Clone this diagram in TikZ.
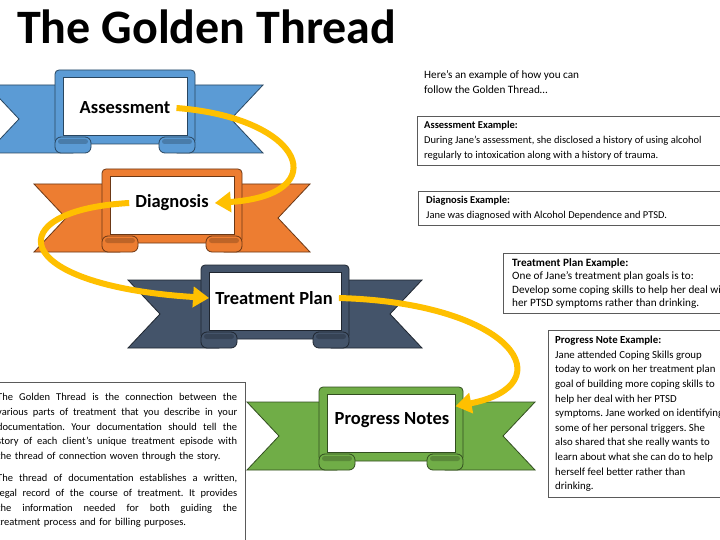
\documentclass[tikz,border=0pt]{standalone}
\usepackage{fontspec}
\setmainfont{Carlito}
\usepackage{tikz}
\usetikzlibrary{arrows.meta}
\definecolor{rbblue}{RGB}{91,155,213}
\definecolor{rborange}{RGB}{237,125,49}
\definecolor{rbslate}{RGB}{68,84,106}
\definecolor{rbgreen}{RGB}{112,173,71}
\definecolor{gold}{RGB}{255,192,0}
\definecolor{boxgray}{RGB}{90,90,90}
\newcommand{\exfont}{\fontsize{10.5}{14.8}\selectfont\frenchspacing}
\newcommand{\jline}[1]{{\spaceskip=0pt\xspaceskip=0pt\makebox[240pt][s]{#1}}}
% ribbon: colour, centre x, top y, half width, panel half width
\newcommand{\ribbon}[5]{%
  \draw[rib=#1] ({#2-#4},{#3+15}) -- ({#2-#5+18},{#3+15}) -- ({#2-#5+18},{#3+83}) -- ({#2-#4},{#3+83}) -- ({#2-#4+32},{#3+49}) -- cycle;
  \draw[rib=#1] ({#2+#4},{#3+15}) -- ({#2+#5-18},{#3+15}) -- ({#2+#5-18},{#3+83}) -- ({#2+#4},{#3+83}) -- ({#2+#4-32},{#3+49}) -- cycle;
  \draw[rib=#1, rounded corners=4] ({#2-#5},{#3}) rectangle ({#2+#5},{#3+74});
  \draw[rib=#1, fill=white] ({#2-#5+8},{#3+7}) rectangle ({#2+#5-8},{#3+65});
  \draw[rib=#1, rounded corners=6] ({#2-#5},{#3+67}) rectangle ({#2-#5+36},{#3+83});
  \draw[rib=#1, rounded corners=6] ({#2+#5-36},{#3+67}) rectangle ({#2+#5},{#3+83});
  \fill[#1!80!black, rounded corners=2.5] ({#2-#5+3},{#3+69}) rectangle ({#2-#5+33},{#3+74});
  \fill[#1!80!black, rounded corners=2.5] ({#2+#5-33},{#3+69}) rectangle ({#2+#5-3},{#3+74});
}
\tikzset{
  rib/.style={draw=#1!45!black, fill=#1, line width=0.8pt},
  rlabel/.style={font=\bfseries\fontsize{18.5}{20}\selectfont, inner sep=6pt},
  thread/.style={draw=gold, line width=6pt, -{Triangle[length=16pt,width=20pt]}},
  exbox/.style={anchor=north west, align=left, font=\exfont, inner xsep=7pt, inner ysep=5pt},
  frame/.style={draw=boxgray, line width=0.9pt}
}

\begin{document}
\begin{tikzpicture}[x=1pt, y=-1pt]
  \useasboundingbox (0,0) rectangle (720,540);
  \clip (0,0) rectangle (720,540);
  \fill[white] (0,0) rectangle (720,540);
  \coordinate (redge) at (740,0);

  \node[font=\bfseries\fontsize{48}{52}\selectfont, anchor=base west, inner sep=0pt] (title) at (17,44) {The Golden Thread};

  % ribbons
  \ribbon{rbblue}{125}{70}{138}{70}
  \ribbon{rborange}{172}{169}{138}{70}
  \ribbon{rbslate}{275}{265}{147}{74}
  \ribbon{rbgreen}{391}{387}{144}{72}

  \node[rlabel] (assess) at (125,108) {Assessment};
  \node[rlabel] (diag) at (172,203) {Diagnosis};
  \node[rlabel] (plan) at (274,298) {Treatment Plan};
  \node[rlabel] (prog) at (392,420) {Progress Notes};

  % the thread
  \draw[thread] (assess.east) .. controls (305,118) and (335,195) .. (diag.east);
  \draw[thread] (diag.west) .. controls (0,210) and (5,285) .. (plan.west);
  \draw[thread] (plan.east) .. controls (515,303) and (565,385) .. (prog.north east);

  % examples
  \node[anchor=north west, align=left, font=\fontsize{11.2}{15.5}\selectfont, inner sep=0pt] (intro) at (424,70) {Here’s an example of how you can\\follow the Golden Thread…};
  \node[exbox] (exassess) at (417,116) {\textbf{Assessment Example:}\\During Jane’s assessment, she disclosed a history of using alcohol\\regularly to intoxication along with a history of trauma.};
  \node[exbox, inner xsep=8pt] (exdiag) at (418,191) {\textbf{Diagnosis Example:}\\Jane was diagnosed with Alcohol Dependence and PTSD.};
  \node[exbox, inner xsep=9pt, font=\fontsize{11.2}{13.5}\selectfont\frenchspacing] (explan) at (503,253) {\textbf{Treatment Plan Example:}\\One of Jane’s treatment plan goals is to:\\Develop some coping skills to help her deal with\\her PTSD symptoms rather than drinking.};
  \node[exbox, inner ysep=6pt, font=\fontsize{10.8}{14.6}\selectfont\frenchspacing] (exprog) at (548,330) {\textbf{Progress Note Example:}\\Jane attended Coping Skills group\\today to work on her treatment plan\\goal of building more coping skills to\\help her deal with her PTSD\\symptoms. Jane worked on identifying\\some of her personal triggers. She\\also shared that she really wants to\\learn about what she can do to help\\herself feel better rather than\\drinking.};
  \draw[frame] (exassess.north west) rectangle (exassess.south west -| redge);
  \draw[frame] (exdiag.north west) rectangle (exdiag.south west -| redge);
  \draw[frame] (explan.north west) rectangle (explan.south west -| redge);
  \draw[frame] (exprog.north west) rectangle (exprog.south west -| redge);

  % what the thread is
  \node[anchor=north west, align=left, font=\exfont, text width=240pt, inner sep=0pt] (about) at (-3,393) {\jline{The Golden Thread is the connection between the}\\\jline{various parts of treatment that you describe in your}\\\jline{documentation. Your documentation should tell the}\\\jline{story of each client’s unique treatment episode with}\\the thread of connection woven through the story.\\[7pt]\jline{The thread of documentation establishes a written,}\\\jline{legal record of the course of treatment. It provides}\\\jline{the information needed for both guiding the}\\treatment process and for billing purposes.};
  \draw[frame] (-11,382) -- (245,382) -- (245,545);
\end{tikzpicture}
\end{document}
